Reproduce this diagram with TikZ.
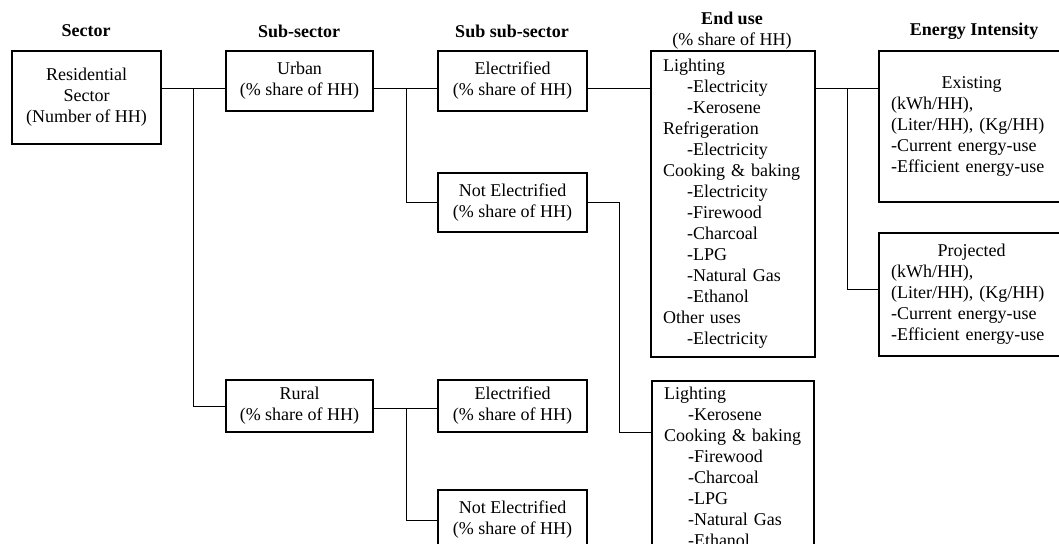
\documentclass[tikz,border=0pt]{standalone}
\usepackage{fontspec}
\setmainfont{Liberation Serif}
\usetikzlibrary{calc}

\newcommand{\fuel}[1]{\hspace*{24pt}-#1}
\newcommand{\hhshare}{(\% share of HH)}

\tikzset{
  every node/.style={font=\fontsize{18}{21}\selectfont},
  header/.style={font=\fontsize{18}{21}\selectfont\bfseries, align=center},
  box/.style={draw, line width=1.6pt, align=center, inner sep=0pt},
  listbox/.style={draw, line width=1.6pt, align=left, inner xsep=12pt, inner ysep=6pt},
  link/.style={line width=1pt},
}

\begin{document}
\begin{tikzpicture}[x=1pt,y=-1pt]
    \useasboundingbox (0,0) rectangle (1059,543);
    \clip (0,0) rectangle (1059,543);

    % headers
    \node[header] (hsec) at (86,31) {Sector};
    \node[header] (hsub) at (299,31) {Sub-sector};
    \node[header] (hsubsub) at (512,31) {Sub sub-sector};
    \node[header] (hend) at (732,31) {End use\\\textmd{\hhshare}};
    \node[header] (hei) at (974,31) {Energy Intensity};

    % sector and sub-sectors
    \node[box, minimum width=149pt, minimum height=93pt] (res) at (86.5,97.5) {Residential\\Sector\\(Number of HH)};
    \node[box, minimum width=147pt, minimum height=60pt] (urban) at (299.5,81) {Urban\\\hhshare};
    \node[box, minimum width=147pt, minimum height=52pt] (rural) at (299.5,406) {Rural\\\hhshare};

    \node[box, minimum width=149pt, minimum height=60pt] (uelec) at (512.5,81) {Electrified\\\hhshare};
    \node[box, minimum width=149pt, minimum height=59pt] (unelec) at (512.5,202.5) {Not Electrified\\\hhshare};
    \node[box, minimum width=149pt, minimum height=52pt] (relec) at (512.5,406) {Electrified\\\hhshare};
    \node[box, minimum width=149pt, minimum height=60pt] (rnelec) at (512.5,520) {Not Electrified\\\hhshare};

    % end use
    \node[listbox, text width=140pt, minimum height=306pt] (use1) at (733,204) {Lighting\\\fuel{Electricity}\\\fuel{Kerosene}\\Refrigeration\\\fuel{Electricity}\\Cooking \& baking\\\fuel{Electricity}\\\fuel{Firewood}\\\fuel{Charcoal}\\\fuel{LPG}\\\fuel{Natural Gas}\\\fuel{Ethanol}\\Other uses\\\fuel{Electricity}};
    \node[listbox, text width=138pt, anchor=north] (use2) at (733,380) {Lighting\\\fuel{Kerosene}\\Cooking \& baking\\\fuel{Firewood}\\\fuel{Charcoal}\\\fuel{LPG}\\\fuel{Natural Gas}\\\fuel{Ethanol}};

    % energy intensity
    \node[listbox, text width=161pt, minimum height=151pt] (exist) at (971.5,126.5) {\makebox[\hsize]{Existing}\\(kWh/HH),\\(Liter/HH), (Kg/HH)\\-Current energy-use\\-Efficient energy-use};
    \node[listbox, text width=161pt, minimum height=123pt] (proj) at (971.5,294.5) {\makebox[\hsize]{Projected}\\(kWh/HH),\\(Liter/HH), (Kg/HH)\\-Current energy-use\\-Efficient energy-use};

    % junctions
    \coordinate (j1) at (193,88);
    \coordinate (j2) at (406,88);
    \coordinate (j3) at (619,432);
    \coordinate (j4) at (847,88);
    \coordinate (j5) at (847,289);
    \coordinate (j6) at (406,408);

    \draw[link] (res.east |- j1) -- (urban.west |- j1);
    \draw[link] (j1) |- (rural.west);
    \draw[link] (urban.east |- j2) -- (uelec.west |- j2);
    \draw[link] (j2) |- (unelec.west);
    \draw[link] (uelec.east |- j2) -- (use1.west |- j2);
    \draw[link] (unelec.east) -| (j3) -- (use2.west |- j3);
    \draw[link] (use1.east |- j4) -- (exist.west |- j4);
    \draw[link] (j4) -- (j5) -- (proj.west |- j5);
    \draw[link] (rural.east |- j6) -- (relec.west |- j6);
    \draw[link] (j6) |- (rnelec.west);
\end{tikzpicture}
\end{document}
